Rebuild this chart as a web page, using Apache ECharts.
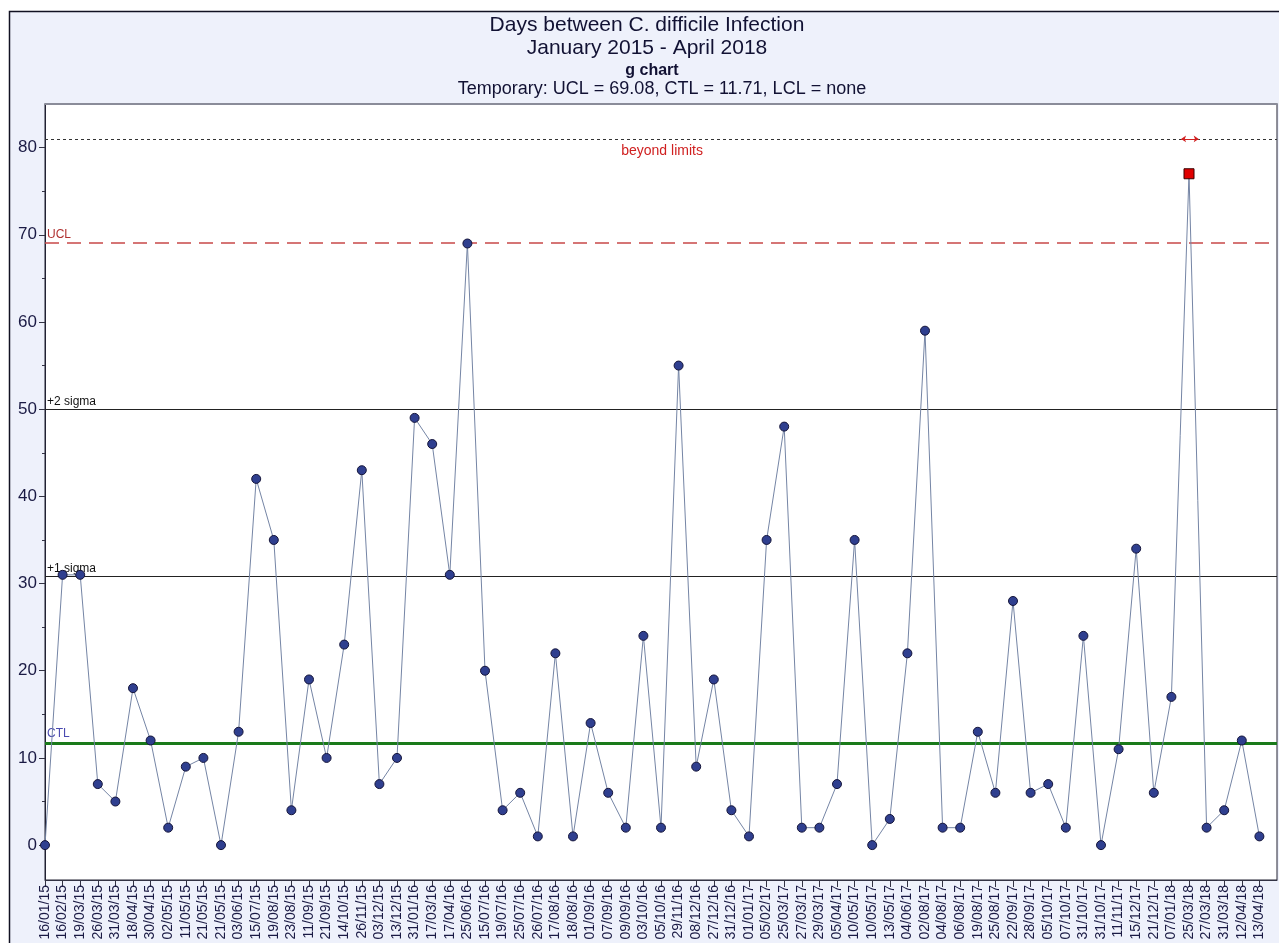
<!DOCTYPE html>
<html>
<head>
<meta charset="utf-8">
<script src="https://cdn.jsdelivr.net/npm/echarts@6/dist/echarts.min.js"></script>
<style>
html,body{margin:0;padding:0;background:#fff;}
#chart{width:1279px;height:943px;}
</style>
</head>
<body>
<div id="chart"></div>
<script>
const dates = ['16/01/15','16/02/15','19/03/15','26/03/15','31/03/15','18/04/15','30/04/15','02/05/15','11/05/15','21/05/15',
'21/05/15','03/06/15','15/07/15','19/08/15','23/08/15','11/09/15','21/09/15','14/10/15','26/11/15','03/12/15',
'13/12/15','31/01/16','17/03/16','17/04/16','25/06/16','15/07/16','19/07/16','25/07/16','26/07/16','17/08/16',
'18/08/16','01/09/16','07/09/16','09/09/16','03/10/16','05/10/16','29/11/16','08/12/16','27/12/16','31/12/16',
'01/01/17','05/02/17','25/03/17','27/03/17','29/03/17','05/04/17','10/05/17','10/05/17','13/05/17','04/06/17',
'02/08/17','04/08/17','06/08/17','19/08/17','25/08/17','22/09/17','28/09/17','05/10/17','07/10/17','31/10/17',
'31/10/17','11/11/17','15/12/17','21/12/17','07/01/18','25/03/18','27/03/18','31/03/18','12/04/18','13/04/18'];
const days = [0,31,31,7,5,18,12,2,9,10,
0,13,42,35,4,19,10,23,43,7,
10,49,46,31,69,20,4,6,1,22,
1,14,6,2,24,2,55,9,19,4,
1,35,48,2,2,7,35,0,3,22,
59,2,2,13,6,28,6,7,2,24,
0,11,34,6,17,77,2,4,12,1];
const UCL = 69.08;
const CTL = 11.71;
const SIGMA1 = 30.83;
const SIGMA2 = 49.95;
const BEYOND = 81;
const yLabelTicks = [0,10,20,30,40,50,60,70,80];
const yMinorTicks = [5,15,25,35,45,55,65,75];
const titleLines = ['Days between C. difficile Infection','January 2015 - April 2018','g chart','Temporary: UCL = 69.08, CTL = 11.71, LCL = none'];

const xIdx = dates.map((d,i)=>i);
const seriesData = days.map((v,i)=>{
  if (v > UCL) {
    return {value:[i,v], symbol:'rect', symbolSize:10, itemStyle:{color:'#e00000', borderColor:'#3a0000', borderWidth:1}};
  }
  return {value:[i,v]};
});
const beyondIdx = days.findIndex(v=>v>UCL);

const chart = echarts.init(document.getElementById('chart'));
const titleColor = '#111133';
chart.setOption({
  animation:false,
  backgroundColor:'#ffffff',
  graphic:[{type:'rect', z:-10, shape:{x:9.5,y:11.5,width:1300,height:1000}, style:{fill:'#eef1fb', stroke:'#111122', lineWidth:1.5}}],
  title:[
    {text:titleLines[0], left:647, textAlign:'center', top:15, textStyle:{fontFamily:'Liberation Sans', fontSize:21, fontWeight:'normal', color:titleColor}, padding:0},
    {text:titleLines[1], left:647, textAlign:'center', top:38, textStyle:{fontFamily:'Liberation Sans', fontSize:21, fontWeight:'normal', color:titleColor}, padding:0},
    {text:titleLines[2], left:652, textAlign:'center', top:63, textStyle:{fontFamily:'Liberation Sans', fontSize:16, fontWeight:'bold', color:titleColor}, padding:0},
    {text:titleLines[3], left:662, textAlign:'center', top:80, textStyle:{fontFamily:'Liberation Sans', fontSize:18, fontWeight:'normal', color:titleColor}, padding:0}
  ],
  grid:{left:45, right:2, top:104, bottom:63, show:true, backgroundColor:'#ffffff', borderColor:'#222233', borderWidth:1},
  xAxis:[{
    type:'value', min:0, max:70,
    axisLine:{show:true, onZero:false, lineStyle:{color:'#333344', width:1}},
    axisTick:{show:true, length:7, customValues:xIdx, lineStyle:{color:'#333344'}},
    axisLabel:{show:true, rotate:90, margin:5, customValues:xIdx, fontFamily:'Liberation Sans', fontSize:14, color:'#1a1a44',
      formatter:(v)=>dates[Math.round(v)] || ''},
    splitLine:{show:false}
  },{
    type:'value', min:0, max:70, position:'top',
    axisLine:{show:true, onZero:false, lineStyle:{color:'#8a8c99', width:2}},
    axisTick:{show:false}, axisLabel:{show:false}, splitLine:{show:false}
  }],
  yAxis:[{
    type:'value', min:-4, max:85,
    axisLine:{show:true, onZero:false, lineStyle:{color:'#222233', width:1}},
    axisTick:{show:true, length:6, customValues:yLabelTicks, lineStyle:{color:'#333344'}},
    axisLabel:{show:true, margin:8, customValues:yLabelTicks, fontFamily:'Liberation Sans', fontSize:17, color:'#1a1a44'},
    splitLine:{show:false}
  },{
    type:'value', min:-4, max:85, position:'left',
    axisLine:{show:false},
    axisTick:{show:true, length:3, customValues:yMinorTicks, lineStyle:{color:'#333344'}},
    axisLabel:{show:false},
    splitLine:{show:false}
  }],
  series:[{
    type:'line',
    data:seriesData,
    symbol:'circle',
    symbolSize:9,
    lineStyle:{color:'#7585a5', width:1},
    itemStyle:{color:'#2f3f8f', borderColor:'#15153a', borderWidth:1},
    z:5,
    markLine:{
      silent:true, symbol:'none', z:3,
      data:[
        {yAxis:BEYOND, lineStyle:{color:'#333333', type:[3,3], width:1}, label:{show:false}},
        {yAxis:UCL, lineStyle:{color:'#c84848', type:[14,8], width:1.5},
          label:{show:true, position:'insideStartTop', distance:[2,2], formatter:'UCL', color:'#b03030', fontSize:12, fontFamily:'Liberation Sans'}},
        {yAxis:SIGMA2, lineStyle:{color:'#222222', type:'solid', width:1},
          label:{show:true, position:'insideStartTop', distance:[2,2], formatter:'+2 sigma', color:'#111111', fontSize:12, fontFamily:'Liberation Sans'}},
        {yAxis:SIGMA1, lineStyle:{color:'#222222', type:'solid', width:1},
          label:{show:true, position:'insideStartTop', distance:[2,2], formatter:'+1 sigma', color:'#111111', fontSize:12, fontFamily:'Liberation Sans'}},
        {yAxis:CTL, lineStyle:{color:'#1a7a1a', type:'solid', width:3},
          label:{show:true, position:'insideStartTop', distance:[2,3], formatter:'CTL', color:'#4a4ab0', fontSize:12, fontFamily:'Liberation Sans'}},
        [{coord:[beyondIdx-0.45, BEYOND], symbol:'arrow', symbolSize:5},{coord:[beyondIdx+0.55, BEYOND], symbol:'arrow', symbolSize:5,
          lineStyle:{color:'#d02020', type:'solid', width:1}, label:{show:false}}]
      ]
    },
    markPoint:{
      silent:true,
      data:[{coord:[35.06, 79.6], symbol:'circle', symbolSize:0,
        label:{show:true, position:'inside', formatter:'beyond limits', color:'#d02020', fontSize:14, fontFamily:'Liberation Sans'}}]
    }
  }]
});
</script>
</body>
</html>
